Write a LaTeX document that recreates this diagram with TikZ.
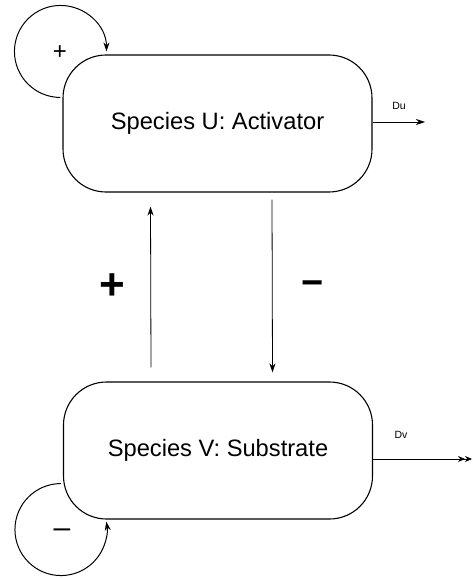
\documentclass[tikz,border=0pt]{standalone}
\usepackage{fontspec}
\setmainfont{Liberation Sans}
\usetikzlibrary{arrows.meta}
\begin{document}
\begin{tikzpicture}[x=1pt,y=1pt,
  species/.style={draw, line width=1.1pt, rounded corners=43pt,
    minimum width=309pt, minimum height=137pt, inner sep=0pt,
    font=\fontsize{23.7}{28}\selectfont},
  link/.style={line width=0.8pt, -{Stealth[length=9pt,width=6pt]}},
  loop/.style={line width=1pt, -{Stealth[length=9pt,width=6pt]}},
  sign/.style={inner sep=0pt},
  rate/.style={inner sep=0pt, font=\fontsize{10.5}{12}\selectfont}]
\useasboundingbox (0,0) rectangle (473,-578);

% the two species
\node[species] (U) at (217.5,-123.5) {Species U: Activator};
\node[species] (V) at (218,-450.5) {Species V: Substrate};

% self-regulation loops
\draw[loop] (U.north west) ++(-2,-43) arc[start angle=270, end angle=0, radius=46];
\node[sign, font=\fontsize{24}{26}\selectfont] (pU) at (60,-53) {+};
\draw[loop] (V.south west) ++(-2,36) arc[start angle=90, end angle=370, radius=46];
\node[sign, font=\fontsize{30}{32}\selectfont] (mV) at (62,-533) {–};

% cross regulation
\draw[link] ([xshift=-67pt,yshift=14pt]V.north) -- ([xshift=-67pt,yshift=-14pt]U.south);
\draw[link] ([xshift=54.5pt,yshift=-7pt]U.south) -- ([xshift=54.5pt,yshift=9pt]V.north);
\node[sign, font=\bfseries\fontsize{44}{46}\selectfont] (pUV) at (112,-287) {+};
\node[sign, font=\bfseries\fontsize{38}{40}\selectfont] (mVU) at (313,-288) {−};

% diffusion
\coordinate (du) at (425,-122);
\draw[link] (U.east) ++(0,1.5) -- (du);
\node[rate] (duL) at (399,-106) {Du};
\coordinate (dv) at (472,-459);
\draw[line width=0.8pt, -{Stealth[length=7pt,width=6pt]Stealth[length=7pt,width=6pt]}] ([yshift=-8.5pt]V.east) -- (dv);
\node[rate] (dvL) at (401,-435) {Dv};
\end{tikzpicture}
\end{document}
